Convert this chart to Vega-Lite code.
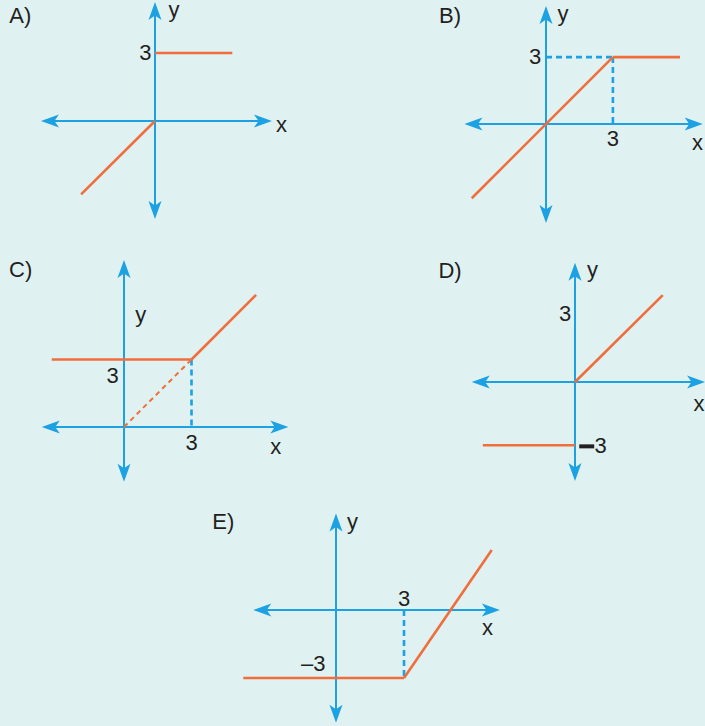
{
  "$schema": "https://vega.github.io/schema/vega-lite/v6.json",
  "background": "#e0f1f2",
  "padding": 0,
  "spacing": 0,
  "config": {
    "view": {"stroke": null},
    "concat": {"spacing": 0},
    "text": {"font": "Liberation Sans", "fontSize": 22, "color": "#231f20"}
  },
  "vconcat": [
    {
      "spacing": 0,
      "hconcat": [
        {
          "width": 430, "height": 245,
          "data": {"values": [
            {"kind": "axis", "x": -4.59, "y": 0, "x2": 4.72, "y2": 0},
            {"kind": "axis", "x": 0, "y": 4.81, "x2": 0, "y2": -3.88},
            {"kind": "arrow", "x": -4.59, "y": 0, "dir": "left"},
            {"kind": "arrow", "x": 4.72, "y": 0, "dir": "right"},
            {"kind": "arrow", "x": 0, "y": 4.81, "dir": "up"},
            {"kind": "arrow", "x": 0, "y": -3.88, "dir": "down"},
            {"kind": "curve", "x": 0, "y": 3, "x2": 3.41, "y2": 3},
            {"kind": "curve", "x": 0, "y": 0, "x2": -3.26, "y2": -3.24},
            {"kind": "label", "x": -5.94, "y": 4.64, "text": "A)"},
            {"kind": "label", "x": -0.42, "y": 3.02, "text": "3"},
            {"kind": "label", "x": 5.58, "y": -0.16, "text": "x"},
            {"kind": "label", "x": 0.84, "y": 4.88, "text": "y"}
          ]},
          "encoding": {
            "x": {"field": "x", "type": "quantitative", "scale": {"domain": [-6.837, 12.131], "nice": false, "zero": false}, "axis": null},
            "y": {"field": "y", "type": "quantitative", "scale": {"domain": [-5.47, 5.337], "nice": false, "zero": false}, "axis": null}
          },
          "layer": [
            {"transform": [{"filter": "datum.kind === 'axis'"}], "mark": {"type": "rule", "color": "#1ca1e2", "strokeWidth": 2}, "encoding": {"x2": {"field": "x2"}, "y2": {"field": "y2"}}},
            {"transform": [{"filter": "datum.kind === 'curve'"}], "mark": {"type": "rule", "color": "#f06e3c", "strokeWidth": 2.6}, "encoding": {"x2": {"field": "x2"}, "y2": {"field": "y2"}}},
            {"transform": [{"filter": "datum.kind === 'arrow'"}], "mark": {"type": "point", "filled": true, "color": "#1ca1e2", "size": 400, "opacity": 1}, "encoding": {"shape": {"field": "dir", "type": "nominal", "legend": null, "scale": {"domain": ["up", "down", "left", "right"], "range": ["M0,-1L0.65,0.8L0,0.35L-0.65,0.8Z", "M0,1L0.65,-0.8L0,-0.35L-0.65,-0.8Z", "M-1,0L0.8,-0.65L0.35,0L0.8,0.65Z", "M1,0L-0.8,-0.65L-0.35,0L-0.8,0.65Z"]}}}},
            {"transform": [{"filter": "datum.kind === 'label'"}], "mark": {"type": "text", "align": "center", "baseline": "middle", "clip": true}, "encoding": {"text": {"field": "text"}}}
          ]
        },
        {
          "width": 275, "height": 245,
          "data": {"values": [
            {"kind": "axis", "x": -3.21, "y": 0, "x2": 6.58, "y2": 0},
            {"kind": "axis", "x": 0, "y": 4.84, "x2": 0, "y2": -3.99},
            {"kind": "arrow", "x": -3.21, "y": 0, "dir": "left"},
            {"kind": "arrow", "x": 6.58, "y": 0, "dir": "right"},
            {"kind": "arrow", "x": 0, "y": 4.84, "dir": "up"},
            {"kind": "arrow", "x": 0, "y": -3.99, "dir": "down"},
            {"kind": "guide", "x": 0, "y": 3, "x2": 3, "y2": 3},
            {"kind": "guide", "x": 3, "y": 3, "x2": 3, "y2": 0},
            {"kind": "curve", "x": -3.33, "y": -3.33, "x2": 3, "y2": 3},
            {"kind": "curve", "x": 3, "y": 3, "x2": 6.01, "y2": 3},
            {"kind": "label", "x": -4.3, "y": 4.85, "text": "B)"},
            {"kind": "label", "x": -0.49, "y": 3, "text": "3"},
            {"kind": "label", "x": 3, "y": -0.68, "text": "3"},
            {"kind": "label", "x": 6.79, "y": -0.83, "text": "x"},
            {"kind": "label", "x": 0.76, "y": 4.95, "text": "y"}
          ]},
          "encoding": {
            "x": {"field": "x", "type": "quantitative", "scale": {"domain": [-5.202, 7.13], "nice": false, "zero": false}, "axis": null},
            "y": {"field": "y", "type": "quantitative", "scale": {"domain": [-5.426, 5.561], "nice": false, "zero": false}, "axis": null}
          },
          "layer": [
            {"transform": [{"filter": "datum.kind === 'axis'"}], "mark": {"type": "rule", "color": "#1ca1e2", "strokeWidth": 2}, "encoding": {"x2": {"field": "x2"}, "y2": {"field": "y2"}}},
            {"transform": [{"filter": "datum.kind === 'guide'"}], "mark": {"type": "rule", "color": "#1ca1e2", "strokeWidth": 2.6, "strokeDash": [6, 4]}, "encoding": {"x2": {"field": "x2"}, "y2": {"field": "y2"}}},
            {"transform": [{"filter": "datum.kind === 'curve'"}], "mark": {"type": "rule", "color": "#f06e3c", "strokeWidth": 2.6}, "encoding": {"x2": {"field": "x2"}, "y2": {"field": "y2"}}},
            {"transform": [{"filter": "datum.kind === 'arrow'"}], "mark": {"type": "point", "filled": true, "color": "#1ca1e2", "size": 400, "opacity": 1, "clip": true}, "encoding": {"shape": {"field": "dir", "type": "nominal", "legend": null, "scale": {"domain": ["up", "down", "left", "right"], "range": ["M0,-1L0.65,0.8L0,0.35L-0.65,0.8Z", "M0,1L0.65,-0.8L0,-0.35L-0.65,-0.8Z", "M-1,0L0.8,-0.65L0.35,0L0.8,0.65Z", "M1,0L-0.8,-0.65L-0.35,0L-0.8,0.65Z"]}}}},
            {"transform": [{"filter": "datum.kind === 'label'"}], "mark": {"type": "text", "align": "center", "baseline": "middle", "clip": true}, "encoding": {"text": {"field": "text"}}}
          ]
        }
      ]
    },
    {
      "spacing": 0,
      "hconcat": [
        {
          "width": 430, "height": 255,
          "data": {"values": [
            {"kind": "axis", "x": -3.21, "y": 0, "x2": 6.86, "y2": 0},
            {"kind": "axis", "x": 0, "y": 6.98, "x2": 0, "y2": -1.99},
            {"kind": "arrow", "x": -3.21, "y": 0, "dir": "left"},
            {"kind": "arrow", "x": 6.86, "y": 0, "dir": "right"},
            {"kind": "arrow", "x": 0, "y": 6.98, "dir": "up"},
            {"kind": "arrow", "x": 0, "y": -1.99, "dir": "down"},
            {"kind": "guide", "x": 3, "y": 3, "x2": 3, "y2": 0},
            {"kind": "curvedash", "x": 0, "y": 0, "x2": 3, "y2": 3},
            {"kind": "curve", "x": -3.21, "y": 3, "x2": 3, "y2": 3},
            {"kind": "curve", "x": 3, "y": 3, "x2": 5.87, "y2": 5.87},
            {"kind": "label", "x": -4.59, "y": 6.98, "text": "C)"},
            {"kind": "label", "x": -0.51, "y": 2.28, "text": "3"},
            {"kind": "label", "x": 3.01, "y": -0.69, "text": "3"},
            {"kind": "label", "x": 6.75, "y": -0.87, "text": "x"},
            {"kind": "label", "x": 0.75, "y": 4.96, "text": "y"}
          ]},
          "encoding": {
            "x": {"field": "x", "type": "quantitative", "scale": {"domain": [-5.511, 13.6], "nice": false, "zero": false}, "axis": null},
            "y": {"field": "y", "type": "quantitative", "scale": {"domain": [-3.244, 8.089], "nice": false, "zero": false}, "axis": null}
          },
          "layer": [
            {"transform": [{"filter": "datum.kind === 'axis'"}], "mark": {"type": "rule", "color": "#1ca1e2", "strokeWidth": 2}, "encoding": {"x2": {"field": "x2"}, "y2": {"field": "y2"}}},
            {"transform": [{"filter": "datum.kind === 'guide'"}], "mark": {"type": "rule", "color": "#1ca1e2", "strokeWidth": 2.6, "strokeDash": [6, 4]}, "encoding": {"x2": {"field": "x2"}, "y2": {"field": "y2"}}},
            {"transform": [{"filter": "datum.kind === 'curvedash'"}], "mark": {"type": "rule", "color": "#f06e3c", "strokeWidth": 2, "strokeDash": [5, 4]}, "encoding": {"x2": {"field": "x2"}, "y2": {"field": "y2"}}},
            {"transform": [{"filter": "datum.kind === 'curve'"}], "mark": {"type": "rule", "color": "#f06e3c", "strokeWidth": 2.6}, "encoding": {"x2": {"field": "x2"}, "y2": {"field": "y2"}}},
            {"transform": [{"filter": "datum.kind === 'arrow'"}], "mark": {"type": "point", "filled": true, "color": "#1ca1e2", "size": 400, "opacity": 1}, "encoding": {"shape": {"field": "dir", "type": "nominal", "legend": null, "scale": {"domain": ["up", "down", "left", "right"], "range": ["M0,-1L0.65,0.8L0,0.35L-0.65,0.8Z", "M0,1L0.65,-0.8L0,-0.35L-0.65,-0.8Z", "M-1,0L0.8,-0.65L0.35,0L0.8,0.65Z", "M1,0L-0.8,-0.65L-0.35,0L-0.8,0.65Z"]}}}},
            {"transform": [{"filter": "datum.kind === 'label'"}], "mark": {"type": "text", "align": "center", "baseline": "middle", "clip": true}, "encoding": {"text": {"field": "text"}}}
          ]
        },
        {
          "width": 275, "height": 255,
          "data": {"values": [
            {"kind": "axis", "x": -4.42, "y": 0, "x2": 5.69, "y2": 0},
            {"kind": "axis", "x": 0, "y": 5.18, "x2": 0, "y2": -4.22},
            {"kind": "arrow", "x": -4.42, "y": 0, "dir": "left"},
            {"kind": "arrow", "x": 5.69, "y": 0, "dir": "right"},
            {"kind": "arrow", "x": 0, "y": 5.18, "dir": "up"},
            {"kind": "arrow", "x": 0, "y": -4.22, "dir": "down"},
            {"kind": "curve", "x": 0, "y": 0, "x2": 4.16, "y2": 4.12},
            {"kind": "curve", "x": -4.37, "y": -3, "x2": 0, "y2": -3},
            {"kind": "tick", "x": 0.2, "y": -3.05, "x2": 0.91, "y2": -3.05},
            {"kind": "label", "x": -5.92, "y": 5.27, "text": "D)"},
            {"kind": "label", "x": -0.47, "y": 3.21, "text": "3"},
            {"kind": "label", "x": 1.22, "y": -3.02, "text": "3"},
            {"kind": "label", "x": 5.88, "y": -1.05, "text": "x"},
            {"kind": "label", "x": 0.83, "y": 5.29, "text": "y"}
          ]},
          "encoding": {
            "x": {"field": "x", "type": "quantitative", "scale": {"domain": [-6.872, 6.161], "nice": false, "zero": false}, "axis": null},
            "y": {"field": "y", "type": "quantitative", "scale": {"domain": [-5.592, 6.493], "nice": false, "zero": false}, "axis": null}
          },
          "layer": [
            {"transform": [{"filter": "datum.kind === 'axis'"}], "mark": {"type": "rule", "color": "#1ca1e2", "strokeWidth": 2}, "encoding": {"x2": {"field": "x2"}, "y2": {"field": "y2"}}},
            {"transform": [{"filter": "datum.kind === 'curve'"}], "mark": {"type": "rule", "color": "#f06e3c", "strokeWidth": 2.6}, "encoding": {"x2": {"field": "x2"}, "y2": {"field": "y2"}}},
            {"transform": [{"filter": "datum.kind === 'tick'"}], "mark": {"type": "rule", "color": "#231f20", "strokeWidth": 4}, "encoding": {"x2": {"field": "x2"}, "y2": {"field": "y2"}}},
            {"transform": [{"filter": "datum.kind === 'arrow'"}], "mark": {"type": "point", "filled": true, "color": "#1ca1e2", "size": 400, "opacity": 1, "clip": true}, "encoding": {"shape": {"field": "dir", "type": "nominal", "legend": null, "scale": {"domain": ["up", "down", "left", "right"], "range": ["M0,-1L0.65,0.8L0,0.35L-0.65,0.8Z", "M0,1L0.65,-0.8L0,-0.35L-0.65,-0.8Z", "M-1,0L0.8,-0.65L0.35,0L0.8,0.65Z", "M1,0L-0.8,-0.65L-0.35,0L-0.8,0.65Z"]}}}},
            {"transform": [{"filter": "datum.kind === 'label'"}], "mark": {"type": "text", "align": "center", "baseline": "middle", "clip": true}, "encoding": {"text": {"field": "text"}}}
          ]
        }
      ]
    },
    {
      "width": 705, "height": 226,
      "data": {"values": [
        {"kind": "axis", "x": -3.21, "y": 0, "x2": 6.79, "y2": 0},
        {"kind": "axis", "x": 0, "y": 3.82, "x2": 0, "y2": -4.53},
        {"kind": "arrow", "x": -3.21, "y": 0, "dir": "left"},
        {"kind": "arrow", "x": 6.79, "y": 0, "dir": "right"},
        {"kind": "arrow", "x": 0, "y": 3.82, "dir": "up"},
        {"kind": "arrow", "x": 0, "y": -4.53, "dir": "down"},
        {"kind": "guide", "x": 3, "y": 0, "x2": 3, "y2": -3},
        {"kind": "curve", "x": -4.09, "y": -3, "x2": 3, "y2": -3},
        {"kind": "curve", "x": 3, "y": -3, "x2": 6.87, "y2": 2.65},
        {"kind": "label", "x": -4.97, "y": 3.9, "text": "E)"},
        {"kind": "label", "x": 3.01, "y": 0.48, "text": "3"},
        {"kind": "label", "x": -1.0, "y": -2.39, "text": "–3"},
        {"kind": "label", "x": 6.68, "y": -0.81, "text": "x"},
        {"kind": "label", "x": 0.73, "y": 3.88, "text": "y"}
      ]},
      "encoding": {
        "x": {"field": "x", "type": "quantitative", "scale": {"domain": [-14.821, 16.277], "nice": false, "zero": false}, "axis": null},
        "y": {"field": "y", "type": "quantitative", "scale": {"domain": [-5.117, 4.852], "nice": false, "zero": false}, "axis": null}
      },
      "layer": [
        {"transform": [{"filter": "datum.kind === 'axis'"}], "mark": {"type": "rule", "color": "#1ca1e2", "strokeWidth": 2}, "encoding": {"x2": {"field": "x2"}, "y2": {"field": "y2"}}},
        {"transform": [{"filter": "datum.kind === 'guide'"}], "mark": {"type": "rule", "color": "#1ca1e2", "strokeWidth": 2.6, "strokeDash": [6, 4]}, "encoding": {"x2": {"field": "x2"}, "y2": {"field": "y2"}}},
        {"transform": [{"filter": "datum.kind === 'curve'"}], "mark": {"type": "rule", "color": "#f06e3c", "strokeWidth": 2.6}, "encoding": {"x2": {"field": "x2"}, "y2": {"field": "y2"}}},
        {"transform": [{"filter": "datum.kind === 'arrow'"}], "mark": {"type": "point", "filled": true, "color": "#1ca1e2", "size": 400, "opacity": 1}, "encoding": {"shape": {"field": "dir", "type": "nominal", "legend": null, "scale": {"domain": ["up", "down", "left", "right"], "range": ["M0,-1L0.65,0.8L0,0.35L-0.65,0.8Z", "M0,1L0.65,-0.8L0,-0.35L-0.65,-0.8Z", "M-1,0L0.8,-0.65L0.35,0L0.8,0.65Z", "M1,0L-0.8,-0.65L-0.35,0L-0.8,0.65Z"]}}}},
        {"transform": [{"filter": "datum.kind === 'label'"}], "mark": {"type": "text", "align": "center", "baseline": "middle", "clip": true}, "encoding": {"text": {"field": "text"}}}
      ]
    }
  ]
}
